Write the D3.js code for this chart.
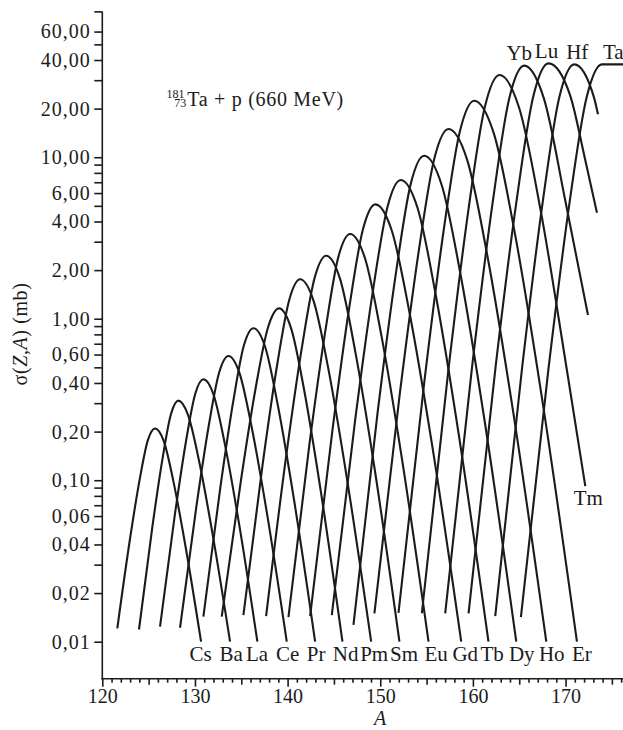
<!DOCTYPE html>
<html>
<head>
<meta charset="utf-8">
<script src="https://cdn.jsdelivr.net/npm/d3@7"></script>
<style>
  html, body { margin: 0; padding: 0; background: #fff; }
  svg { display: block; font-family: "Liberation Serif", "Times New Roman", serif; }
</style>
</head>
<body>
<svg id="chart" width="623" height="730"></svg>
<script>
// Element yield curves for 181Ta + p (660 MeV): sigma(Z,A) in mb vs mass number A
const elements = ["Cs","Ba","La","Ce","Pr","Nd","Pm","Sm","Eu","Gd","Tb","Dy","Ho","Er","Tm","Yb","Lu","Hf","Ta"];

// mass number A of the points along each element curve
const massA = [
  [121.62, 123.00, 124.06, 124.92, 125.69, 126.63, 127.68, 128.97, 130.66],
  [123.96, 125.41, 126.51, 127.40, 128.21, 129.27, 130.44, 131.89, 133.79],
  [126.23, 127.82, 129.04, 130.02, 130.91, 132.02, 133.24, 134.76, 136.74],
  [128.39, 130.17, 131.52, 132.62, 133.61, 134.81, 136.13, 137.77, 139.91],
  [130.91, 132.75, 134.15, 135.28, 136.31, 137.58, 138.97, 140.71, 142.97],
  [132.89, 135.00, 136.60, 137.90, 139.08, 140.38, 141.82, 143.59, 145.92],
  [135.23, 137.31, 138.90, 140.19, 141.35, 142.81, 144.42, 146.41, 149.02],
  [137.68, 139.88, 141.57, 142.93, 144.16, 145.66, 147.32, 149.38, 152.07],
  [140.09, 142.35, 144.09, 145.48, 146.75, 148.36, 150.13, 152.33, 155.21],
  [142.43, 144.83, 146.66, 148.14, 149.48, 151.24, 153.18, 155.59, 158.74],
  [144.77, 147.30, 149.24, 150.80, 152.22, 154.02, 156.00, 158.46, 161.68],
  [147.11, 149.70, 151.69, 153.29, 154.74, 156.63, 158.72, 161.30, 164.68],
  [149.37, 152.09, 154.17, 155.85, 157.37, 159.38, 161.59, 164.33, 167.92],
  [151.97, 154.75, 156.87, 158.59, 160.14, 162.25, 164.58, 167.46, 171.23],
  [154.49, 157.34, 159.52, 161.28, 162.87, 164.98, 167.31, 170.19, 172.13],
  [157.01, 159.91, 162.13, 163.92, 165.54, 167.65, 169.98, 172.42],
  [159.53, 162.46, 164.71, 166.52, 168.16, 170.51, 172.06, 173.39],
  [162.41, 165.31, 167.53, 169.32, 170.94, 173.05, 173.50],
  [165.18, 168.16, 170.43, 172.27, 173.93, 176.20]
];

// cross section sigma(Z,A), mb, at the same points
const sigmaMb = [
  [0.0121, 0.0437, 0.103, 0.177, 0.209, 0.175, 0.098, 0.0393, 0.01],
  [0.0119, 0.0518, 0.137, 0.255, 0.311, 0.252, 0.132, 0.0469, 0.01],
  [0.0124, 0.0605, 0.175, 0.341, 0.422, 0.337, 0.166, 0.0538, 0.01],
  [0.0122, 0.0698, 0.223, 0.466, 0.588, 0.460, 0.212, 0.0625, 0.01],
  [0.0143, 0.0910, 0.312, 0.682, 0.873, 0.668, 0.286, 0.0746, 0.01],
  [0.0143, 0.103, 0.386, 0.889, 1.159, 0.871, 0.353, 0.0849, 0.01],
  [0.0146, 0.126, 0.530, 1.315, 1.754, 1.285, 0.482, 0.102, 0.01],
  [0.0144, 0.146, 0.679, 1.803, 2.455, 1.766, 0.619, 0.119, 0.01],
  [0.0142, 0.166, 0.853, 2.415, 3.350, 2.360, 0.783, 0.137, 0.01],
  [0.0144, 0.202, 1.178, 3.589, 5.105, 3.516, 1.074, 0.166, 0.01],
  [0.0146, 0.238, 1.531, 4.977, 7.228, 4.864, 1.393, 0.194, 0.01],
  [0.0127, 0.258, 1.914, 6.839, 10.21, 6.730, 1.807, 0.226, 0.01],
  [0.0150, 0.336, 2.661, 9.886, 14.96, 9.638, 2.404, 0.269, 0.01],
  [0.0151, 0.404, 3.606, 14.45, 22.39, 14.09, 3.258, 0.321, 0.01],
  [0.0150, 0.474, 4.742, 20.37, 32.28, 20.32, 4.688, 0.463, 0.0920],
  [0.0150, 0.504, 5.236, 23.12, 36.90, 23.23, 5.358, 1.054],
  [0.0150, 0.511, 5.370, 23.82, 38.11, 23.99, 10.0, 4.529],
  [0.0144, 0.497, 5.260, 23.44, 37.58, 23.66, 18.45],
  [0.0142, 0.492, 5.236, 23.44, 37.58, 37.58]
];

// where each element name is written: below the curve end or above its maximum
const labelAt = ["end","end","end","end","end","end","end","end","end","end",
                 "end","end","end","end","end","peak","peak","peak","peak"];

const xMajorTicks = [120, 130, 140, 150, 160, 170];
const xMidTicks = [125, 135, 145, 155, 165, 175];
const yLabelTicks = [60, 40, 20, 10, 6, 4, 2, 1, 0.6, 0.4, 0.2, 0.1, 0.06, 0.04, 0.02, 0.01];
const yMinorTicks = [80, 50, 30, 9, 8, 7, 5, 3, 0.9, 0.8, 0.7, 0.5, 0.3, 0.09, 0.08, 0.07, 0.05, 0.03];

// horizontal nudges (px) so the packed element names do not collide
const nameNudge = { Cs: -0.5, Ba: 1, La: -0.3, Ce: 0.8, Pr: 1, Nd: 3.2, Pm: 3, Sm: 4.7, Eu: 7.7,
                    Gd: 4, Tb: 3.7, Dy: 5.5, Ho: 5.5, Er: 5, Tm: 3, Yb: -5, Lu: -2, Hf: 3, Ta: 1 };

const ink = "#1b1b1b";
const svg = d3.select("#chart");

const x = d3.scaleLinear().domain([120, 176.2]).range([102.3, 623]);
const y = d3.scaleLog().domain([0.01, 40]).range([641.7, 60]);
const baseY = 678.7;      // position of the A axis
const axisX = x(120);

const commaFmt = d3.formatLocale({ decimal: ",", thousands: ".", grouping: [3], currency: ["", ""] }).format(".2f");

// ---- y axis ----
const yAxis = svg.append("g").attr("transform", `translate(${axisX},0)`);
yAxis.call(d3.axisLeft(y).tickValues(yLabelTicks).tickFormat(commaFmt).tickSize(8).tickPadding(3.5));
yAxis.append("g").call(d3.axisLeft(y).tickValues(yMinorTicks).tickFormat("").tickSize(8));
yAxis.selectAll(".domain").remove();
yAxis.append("line").attr("x1", 0).attr("x2", 0).attr("y1", y(80)).attr("y2", baseY + 0.7);
yAxis.selectAll("line").attr("stroke", ink).attr("stroke-width", 1.6);
yAxis.selectAll("text").attr("fill", ink).style("font-size", "20px").style("letter-spacing", "1px")
  .style("font-family", '"Liberation Serif", serif');

// ---- x axis ----
const xMinor = d3.range(121, 177).filter(v => v % 5 !== 0);
const xAxis = svg.append("g").attr("transform", `translate(0,${baseY})`);
xAxis.call(d3.axisBottom(x).tickValues(xMajorTicks).tickFormat(d3.format("d")).tickSize(8).tickPadding(2.4));
xAxis.append("g").call(d3.axisBottom(x).tickValues(xMidTicks).tickFormat("").tickSize(6));
xAxis.append("g").call(d3.axisBottom(x).tickValues(xMinor).tickFormat("").tickSize(4));
xAxis.selectAll(".domain").remove();
xAxis.append("line").attr("x1", axisX - 0.8).attr("x2", 623).attr("y1", 0).attr("y2", 0);
xAxis.selectAll("line").attr("stroke", ink).attr("stroke-width", 1.6);
xAxis.selectAll("text").attr("fill", ink).style("font-size", "20px")
  .style("font-family", '"Liberation Serif", serif');

// ---- axis titles ----
svg.append("text")
  .attr("x", 380).attr("y", 725)
  .attr("text-anchor", "middle")
  .style("font-size", "20px").style("font-style", "italic").attr("fill", ink)
  .text("A");

const yTitle = svg.append("text")
  .attr("transform", "translate(27,334) rotate(-90)")
  .attr("text-anchor", "middle")
  .style("font-size", "20px").style("letter-spacing", "0.6px").attr("fill", ink);
yTitle.append("tspan").text("σ(");
yTitle.append("tspan").style("font-style", "italic").text("Z");
yTitle.append("tspan").text(",");
yTitle.append("tspan").style("font-style", "italic").text("A");
yTitle.append("tspan").text(") (mb)");

// ---- reaction annotation (nuclide with stacked mass / charge numbers) ----
const note = svg.append("text").attr("fill", ink).attr("x", 166.5).attr("y", 98.2);
note.append("tspan").style("font-size", "12px").text("181");
note.append("tspan").attr("x", 174.2).attr("dy", 9).style("font-size", "12px").text("73");
note.append("tspan").attr("x", 187.3).attr("dy", -1.5)
  .style("font-size", "20px").style("letter-spacing", "0.7px")
  .text("Ta + p (660 MeV)");

// ---- element curves ----
const line = d3.line()
  .x(d => x(d[0]))
  .y(d => y(d[1]))
  .curve(d3.curveMonotoneX);

const curves = elements.map((name, i) => ({
  name,
  pts: massA[i].map((a, j) => [a, sigmaMb[i][j]]),
  where: labelAt[i]
}));

svg.append("g")
  .selectAll("path")
  .data(curves)
  .join("path")
  .attr("d", d => line(d.pts))
  .attr("fill", "none")
  .attr("stroke", ink)
  .attr("stroke-width", 2.1)
  .attr("stroke-linejoin", "round");

// ---- element names ----
svg.append("g")
  .selectAll("text")
  .data(curves)
  .join("text")
  .each(function (d) {
    const t = d3.select(this);
    const dx = nameNudge[d.name] || 0;
    if (d.where === "end") {
      const p = d.pts[d.pts.length - 1];
      t.attr("x", x(p[0]) + dx).attr("y", y(p[1]) + 19).attr("text-anchor", "middle");
    } else {
      const top = d.pts.reduce((m, p) => (p[1] > m[1] ? p : m));
      t.attr("x", x(top[0]) + dx).attr("y", y(top[1]) - 5.5)
        .attr("text-anchor", d.name === "Ta" ? "start" : "middle");
    }
  })
  .attr("fill", ink)
  .style("font-size", "21px")
  .text(d => d.name);
</script>
</body>
</html>
